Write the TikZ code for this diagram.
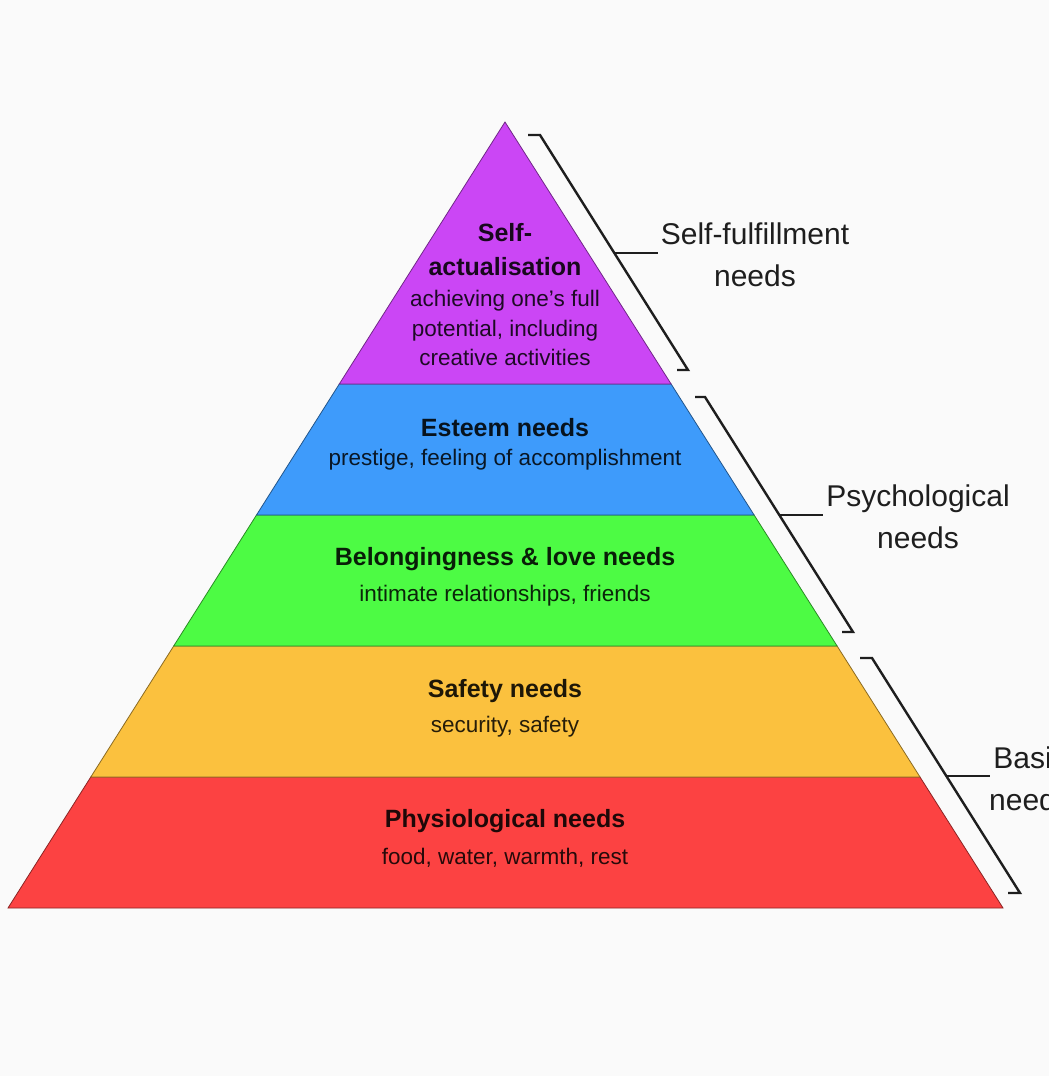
\documentclass[tikz,border=0pt]{standalone}
\usepackage{fontspec}
\setmainfont{Liberation Sans}
\definecolor{bg}{RGB}{250,250,250}
\definecolor{cpurple}{RGB}{203,70,245}
\definecolor{cblue}{RGB}{62,155,251}
\definecolor{cgreen}{RGB}{77,251,68}
\definecolor{cyellow}{RGB}{251,193,62}
\definecolor{cred}{RGB}{252,66,66}
\definecolor{ink}{RGB}{30,30,30}
\begin{document}
\begin{tikzpicture}[x=1pt,y=-1pt,
  layer/.style={fill=#1, draw=#1!55!black, line width=0.8pt, line join=miter},
  ttl/.style={font=\fontsize{25}{34}\selectfont\bfseries, text=black!88!#1, align=center, inner sep=0pt},
  sub/.style={font=\fontsize{22.5}{29.5}\selectfont, text=black!85!#1, align=center, inner sep=0pt},
  brk/.style={draw=ink, line width=2.4pt, line join=miter},
  tick/.style={draw=ink, line width=1.8pt},
  grp/.style={font=\fontsize{30}{42}\selectfont, text=ink, align=center, inner sep=0pt}]
\clip (0,0) rectangle (1049,1076);
\fill[bg] (0,0) rectangle (1049,1076);
% pyramid corners
\coordinate (apex) at (505,122);
\coordinate (L1) at (339.3,384); \coordinate (R1) at (671.1,384);
\coordinate (L2) at (256.5,515); \coordinate (R2) at (754.1,515);
\coordinate (L3) at (173.7,646); \coordinate (R3) at (837.1,646);
\coordinate (L4) at (90.8,777);  \coordinate (R4) at (920.0,777);
\coordinate (L5) at (8,908);     \coordinate (R5) at (1003,908);
% layers
\path[layer=cred]    (L4) -- (R4) -- (R5) -- (L5) -- cycle;
\path[layer=cyellow] (L3) -- (R3) -- (R4) -- (L4) -- cycle;
\path[layer=cgreen]  (L2) -- (R2) -- (R3) -- (L3) -- cycle;
\path[layer=cblue]   (L1) -- (R1) -- (R2) -- (L2) -- cycle;
\path[layer=cpurple] (apex) -- (R1) -- (L1) -- cycle;
% layer texts
\node[ttl=cpurple] (t1) at (505,250) {Self-\\actualisation};
\node[sub=cpurple] (s1) at (505,328) {achieving one{\char"27}s full\\potential, including\\creative activities};
\node[ttl=cblue] (t2) at (505,428) {Esteem needs};
\node[sub=cblue] (s2) at (505,460) {prestige, feeling of accomplishment};
\node[ttl=cgreen] (t3) at (505,559) {Belongingness \& love needs};
\node[sub=cgreen] (s3) at (505,596) {intimate relationships, friends};
\node[ttl=cyellow] (t4) at (505,691) {Safety needs};
\node[sub=cyellow] (s4) at (505,727) {security, safety};
\node[ttl=cred] (t5) at (505,821) {Physiological needs};
\node[sub=cred] (s5) at (505,858) {food, water, warmth, rest};
% brackets
\coordinate (b1a) at (528,135); \coordinate (b1b) at (540,135);
\coordinate (b1c) at (688,370); \coordinate (b1d) at (677,370);
\coordinate (b1m) at (614.5,253); \coordinate (b1e) at (658,253);
\path[brk] (b1a) -- (b1b) -- (b1c) -- (b1d);
\path[tick] (b1m) -- (b1e);
\node[grp] (g1) at (755,255) {Self-fulfillment\\needs};

\coordinate (b2a) at (695,397); \coordinate (b2b) at (705,397);
\coordinate (b2c) at (853,632); \coordinate (b2d) at (842,632);
\coordinate (b2m) at (779,515); \coordinate (b2e) at (823,515);
\path[brk] (b2a) -- (b2b) -- (b2c) -- (b2d);
\path[tick] (b2m) -- (b2e);
\node[grp] (g2) at (918,517) {Psychological\\needs};

\coordinate (b3a) at (860,658); \coordinate (b3b) at (872,658);
\coordinate (b3c) at (1020,893); \coordinate (b3d) at (1008,893);
\coordinate (b3m) at (946,776); \coordinate (b3e) at (990,776);
\path[brk] (b3a) -- (b3b) -- (b3c) -- (b3d);
\path[tick] (b3m) -- (b3e);
\node[grp] (g3) at (1030,779) {Basic\\needs};
\end{tikzpicture}
\end{document}
